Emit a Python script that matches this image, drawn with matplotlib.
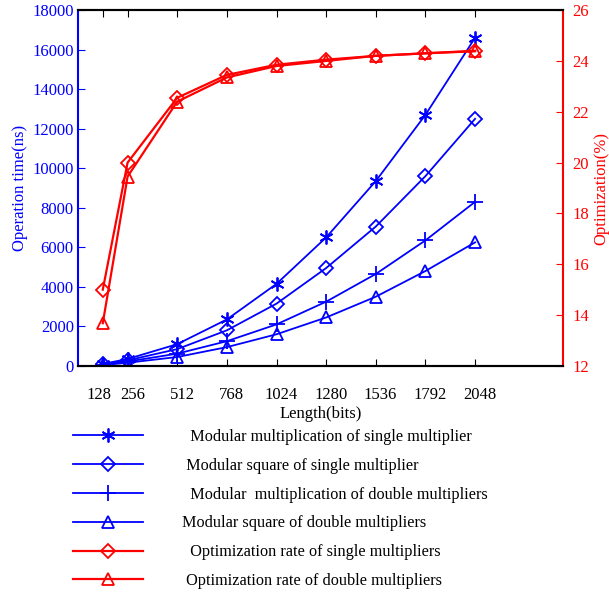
import matplotlib.pyplot as plt
from matplotlib.transforms import ScaledTranslation

plt.rcParams['font.family'] = ['Liberation Serif', 'DejaVu Serif']

# Data
length_bits = [128, 256, 512, 768, 1024, 1280, 1536, 1792, 2048]
mm_single = [100, 350, 1100, 2350, 4150, 6500, 9350, 12700, 16600]
sq_single = [80, 280, 850, 1800, 3150, 4950, 7050, 9600, 12500]
mm_double = [60, 220, 620, 1250, 2100, 3250, 4650, 6350, 8300]
sq_double = [40, 160, 450, 950, 1600, 2450, 3500, 4800, 6250]
opt_single = [15.0, 20.0, 22.55, 23.45, 23.85, 24.05, 24.2, 24.3, 24.38]
opt_double = [13.68, 19.45, 22.4, 23.35, 23.8, 24.0, 24.2, 24.3, 24.4]

labels = ['  Modular multiplication of single multiplier',
          ' Modular square of single multiplier',
          '  Modular  multiplication of double multipliers',
          'Modular square of double multipliers',
          '  Optimization rate of single multipliers',
          ' Optimization rate of double multipliers']

blue = '#0000ff'
red = '#ff0000'

fig = plt.figure(figsize=(6.09, 5.94), dpi=100)
ax = fig.add_axes([0.128, 0.384, 0.796, 0.599])
ax2 = ax.twinx()

h1, = ax.plot(length_bits, mm_single, color=blue, lw=1.3, marker=(6, 2, 0), ms=10, mew=1.3)
h2, = ax.plot(length_bits, sq_single, color=blue, lw=1.3, marker='D', ms=7, mfc='none', mew=1.3)
h3, = ax.plot(length_bits, mm_double, color=blue, lw=1.3, marker='+', ms=11, mew=1.3)
h4, = ax.plot(length_bits, sq_double, color=blue, lw=1.3, marker='^', ms=8, mfc='none', mew=1.3)
h5, = ax2.plot(length_bits, opt_single, color=red, lw=1.6, marker='D', ms=7, mfc='none', mew=1.3)
h6, = ax2.plot(length_bits, opt_double, color=red, lw=1.6, marker='^', ms=8, mfc='none', mew=1.3)

ax.set_xlim(0, 2500)
ax.set_ylim(0, 18000)
ax2.set_ylim(12, 26)
ax.set_xticks(length_bits)
ax.set_yticks(range(0, 18001, 2000))
ax2.set_yticks(range(12, 27, 2))

ax.tick_params(axis='x', direction='in', top=True, length=5, pad=15, labelsize=12, colors='black')
ax.tick_params(axis='y', direction='in', length=5, pad=3, labelsize=12, colors=blue)
ax2.tick_params(axis='y', direction='in', length=5, pad=7, labelsize=12, colors=red)
ax2.tick_params(axis='x', top=False, bottom=False)

# the x tick labels sit a little right of their ticks, 128 a little left
for i, lab in enumerate(ax.get_xticklabels()):
    dx = -2.5 if i == 0 else 3.5
    lab.set_transform(lab.get_transform() + ScaledTranslation(dx / 72, 0, fig.dpi_scale_trans))

ax.spines['left'].set_color(blue)
ax.spines['left'].set_linewidth(1.5)
ax2.spines['left'].set_visible(False)
ax2.spines['right'].set_color(red)
ax2.spines['right'].set_linewidth(1.5)
ax.spines['right'].set_visible(False)
ax.spines['top'].set_linewidth(1.5)
ax.spines['bottom'].set_linewidth(1.5)
ax2.spines['top'].set_linewidth(1.5)
ax2.spines['bottom'].set_linewidth(1.5)

ax.set_xlabel('Length(bits)', fontsize=12, labelpad=2)
ax.set_ylabel('Operation time(ns)', fontsize=12, color=blue, labelpad=3)
ax2.set_ylabel('Optimization(%)', fontsize=12, color=red, labelpad=3)

fig.legend([h1, h2, h3, h4, h5, h6], labels, loc='upper left',
           bbox_to_anchor=(0.12, 0.278), frameon=False, fontsize=11.7,
           handlelength=4.3, handletextpad=2.4, labelspacing=0.79,
           borderpad=0, borderaxespad=0)

fig.savefig('out.png', dpi=100)
